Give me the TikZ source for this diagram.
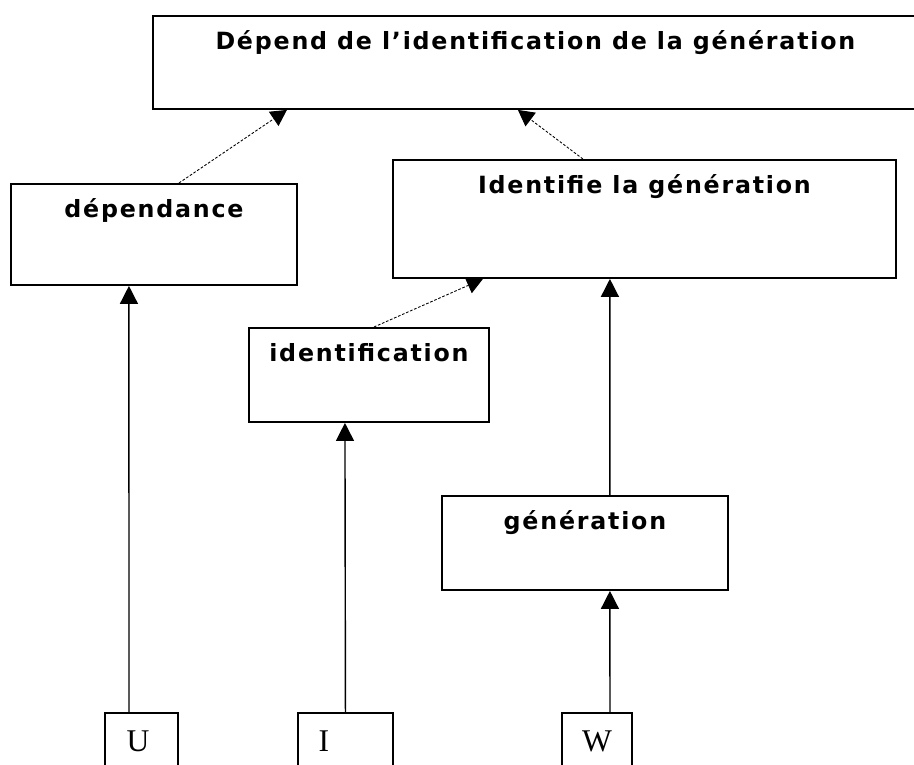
\documentclass[tikz,border=0pt]{standalone}
\usepackage{fontspec}
\setmainfont{DejaVu Sans}
\newfontfamily\boite[LetterSpace=7.5]{DejaVu Sans}
\newfontfamily\lettre{Liberation Serif}
\usetikzlibrary{arrows.meta}

\begin{document}
\begin{tikzpicture}[
    x=0.02cm, y=-0.02cm,
    bloc/.style={rectangle, draw, line width=1.1pt, inner sep=0pt, anchor=north west,
        text height=0.68cm, font=\boite\bfseries\fontsize{13.5}{15}\selectfont},
    feuille/.style={rectangle, draw, line width=1.1pt, inner sep=0pt, anchor=north west,
        minimum height=1.4cm, text height=0.78cm, text depth=0.62cm,
        font=\lettre\fontsize{18}{20}\selectfont},
    lien/.style={-{Triangle[width=0.36cm, length=0.36cm]}, line width=0.8pt},
    renvoi/.style={-{Triangle[width=0.34cm, length=0.32cm]}, line width=0.5pt,
        dash pattern=on 1.5pt off 1pt}
]
\useasboundingbox (0,0) rectangle (914,765);

\node (Depend) [bloc, minimum width=15.3cm, text depth=1.18cm] at (152,15)
    {Dépend de l’identification de la génération};
\node (Dependance) [bloc, minimum width=5.72cm, text depth=1.34cm] at (10,183)
    {dépendance};
\node (Identifie) [bloc, minimum width=10.06cm, text depth=1.68cm] at (392,159)
    {Identifie la génération};
\node (Identification) [bloc, minimum width=4.8cm, text depth=1.2cm] at (248,327)
    {identification};
\node (Generation) [bloc, minimum width=5.72cm, text depth=1.2cm] at (441,495)
    {génération};

\node (U) [feuille, minimum width=1.46cm] at (104,712) {U\kern0.14cm};
\node (I) [feuille, minimum width=1.9cm] at (297,712) {I\kern0.86cm};
\node (W) [feuille, minimum width=1.4cm] at (561,712) {W};

% montees verticales
\draw [lien] ([xshift=-0.25cm]U.north) -- ([xshift=-0.5cm]Dependance.south);
\draw [lien] (I.north) -- ([xshift=-0.48cm]Identification.south);
\draw [lien] ([xshift=0.26cm]W.north) -- ([xshift=0.5cm]Generation.south);
\draw [lien] ([xshift=0.5cm]Generation.north) -- ([xshift=-0.69cm]Identifie.south);

% renvois obliques
\draw [renvoi] ([xshift=0.5cm]Dependance.north) -- ([xshift=-4.97cm]Depend.south);
\draw [renvoi] ([xshift=-1.23cm]Identifie.north) -- ([xshift=-0.35cm]Depend.south);
\draw [renvoi] ([xshift=0.1cm]Identification.north) -- ([xshift=-3.23cm]Identifie.south);

\end{tikzpicture}
\end{document}
